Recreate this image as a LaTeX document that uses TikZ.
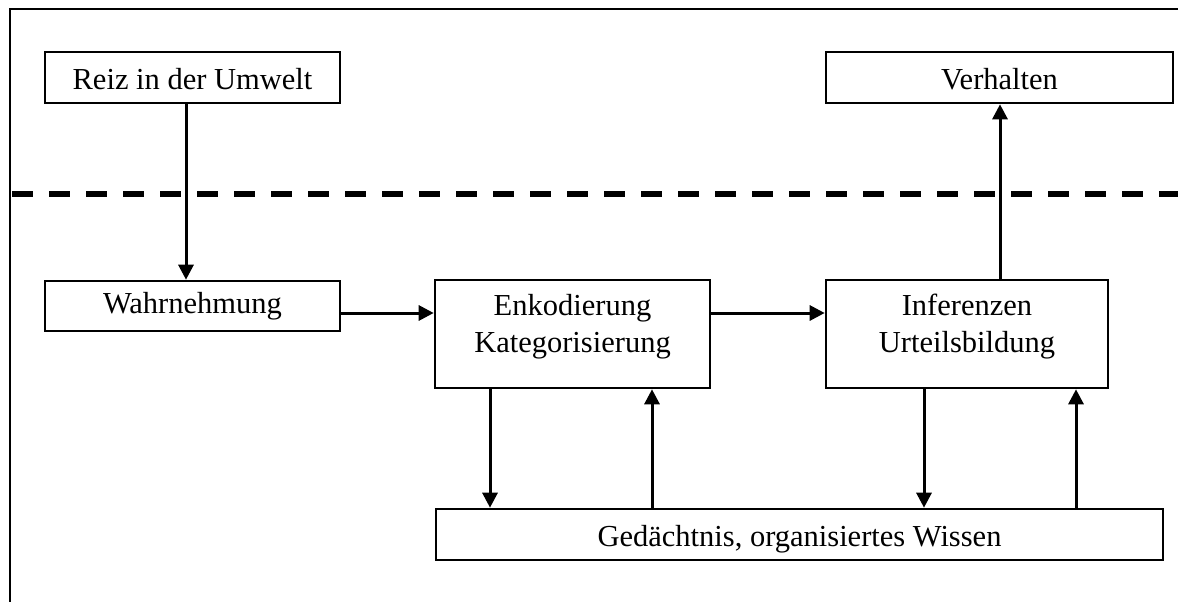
\documentclass[tikz,border=0pt]{standalone}
\usepackage{fontspec}
\setmainfont{Liberation Serif}
\usetikzlibrary{arrows.meta}
\begin{document}
\begin{tikzpicture}[x=1pt,y=-1pt,
  stage/.style={draw,line width=2.6pt,inner sep=0pt,font=\fontsize{30.5}{37}\selectfont,
    align=center,text height=23pt,text depth=0pt},
  twoline/.style={text height=60pt,text depth=24pt},
  flow/.style={line width=3pt,-{Triangle[length=15pt,width=15pt]}}]
\useasboundingbox (0,0) rectangle (1178,602);
% frame (open towards right and bottom)
\draw[line width=2.4pt] (10,602) -- (10,9) -- (1178,9);
% boundary between environment and inner processing
\draw[line width=5.5pt,dash pattern=on 21pt off 16pt] (12,194) -- (1178,194);
% boxes
\node[stage,minimum width=295pt,minimum height=51pt] (reiz) at (192.5,77.5) {Reiz in der Umwelt};
\node[stage,minimum width=347pt,minimum height=51pt] (verh) at (999.5,77.5) {Verhalten};
\node[stage,minimum width=295pt,minimum height=50pt,text height=14pt] (wahr) at (192.5,306) {Wahrnehmung};
\node[stage,twoline,minimum width=275pt,minimum height=108pt] (enk) at (572.5,334) {Enkodierung\\Kategorisierung};
\node[stage,twoline,minimum width=282pt,minimum height=108pt] (inf) at (967,334) {Inferenzen\\Urteilsbildung};
\node[stage,minimum width=727pt,minimum height=51pt] (ged) at (799.5,534.5) {Gedächtnis, organisiertes Wissen};
% connectors
\draw[flow] (reiz.south -| 186,0) -- (wahr.north -| 186,0);
\draw[flow] (wahr.east |- 0,313) -- (enk.west |- 0,313);
\draw[flow] (enk.east |- 0,313) -- (inf.west |- 0,313);
\draw[flow] (inf.north -| 1000,0) -- (verh.south -| 1000,0);
\draw[flow] (enk.south -| 490,0) -- (ged.north -| 490,0);
\draw[flow] (ged.north -| 652,0) -- (enk.south -| 652,0);
\draw[flow] (inf.south -| 924,0) -- (ged.north -| 924,0);
\draw[flow] (ged.north -| 1076,0) -- (inf.south -| 1076,0);
\end{tikzpicture}
\end{document}
